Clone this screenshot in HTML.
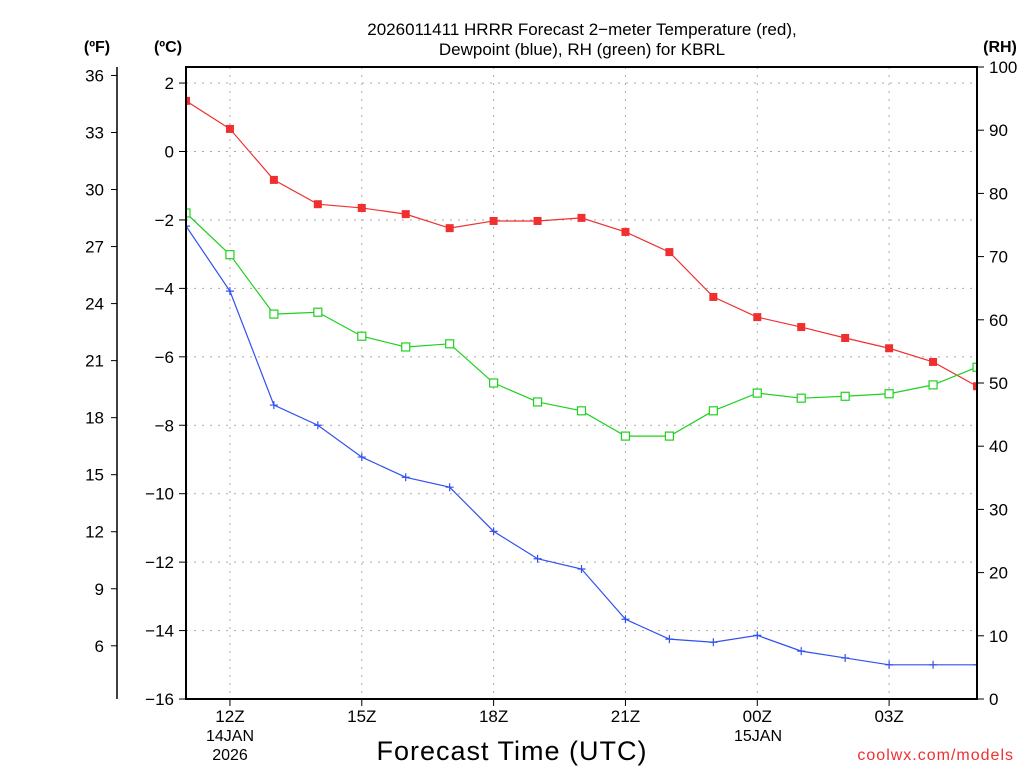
<!DOCTYPE html>
<html><head><meta charset="utf-8"><style>
body{margin:0;background:#fff}
svg text{font-family:"Liberation Sans",sans-serif}
</style></head><body>
<svg id="c" width="1024" height="768" xmlns="http://www.w3.org/2000/svg"><defs><clipPath id="pc"><rect x="186" y="67" width="791" height="632"/></clipPath></defs></svg>
<script>
const hours = [11,12,13,14,15,16,17,18,19,20,21,22,23,24,25,26,27,28,29];
const tempC = [1.48,0.66,-0.83,-1.54,-1.65,-1.83,-2.24,-2.03,-2.03,-1.94,-2.35,-2.94,-4.25,-4.84,-5.13,-5.45,-5.75,-6.15,-6.86];
const dewC = [-2.18,-4.08,-7.41,-8.0,-8.93,-9.52,-9.81,-11.1,-11.9,-12.2,-13.67,-14.25,-14.34,-14.14,-14.6,-14.8,-15.0,-15.0,-15.0];
const rh = [76.9,70.3,60.9,61.2,57.4,55.7,56.2,50.0,47.0,45.6,41.6,41.6,45.6,48.4,47.6,47.9,48.3,49.7,52.5];
const cTicks = [2,0,-2,-4,-6,-8,-10,-12,-14,-16];
const fTicks = [36,33,30,27,24,21,18,15,12,9,6];
const rhTicks = [100,90,80,70,60,50,40,30,20,10,0];
const xTickHours = [12,15,18,21,24,27];
const xTickLabels = ["12Z","15Z","18Z","21Z","00Z","03Z"];

const L=186,R=977,T=67,B=699;
const x=h=>L+(h-11)*(R-L)/18;
const yC=c=>151.5-c*34.22;
const yF=f=>yC((f-32)*5/9);
const yR=r=>B-r*(B-T)/100;
const svg=document.getElementById('c');
const NS='http://www.w3.org/2000/svg';
function mk(tag,a,txt,name,parent){const e=document.createElementNS(NS,tag);for(const k in a)e.setAttribute(k,a[k]);if(txt!=null)e.textContent=txt;


(parent||svg).appendChild(e);return e;}
cTicks.forEach(c=>{if(c>-16)mk('line',{x1:L,x2:R,y1:yC(c),y2:yC(c),stroke:'#aaa','stroke-dasharray':'2,6'},null,'h-grid');});
xTickHours.forEach(h=>mk('line',{x1:x(h),x2:x(h),y1:T,y2:B,stroke:'#aaa','stroke-dasharray':'2,6'},null,'v-grid'));
mk('line',{x1:117,x2:117,y1:67,y2:699,stroke:'#000','stroke-width':1.5},null,'fahrenheit-axis');
cTicks.forEach(c=>{mk('line',{x1:L-7,x2:L,y1:yC(c),y2:yC(c),stroke:'#000'},null,'c-tick');mk('text',{x:174,y:yC(c)+6,'text-anchor':'end','font-size':17},String(c).replace('-','−'),'c-tick-label');});
fTicks.forEach(f=>{mk('line',{x1:111,x2:117,y1:yF(f),y2:yF(f),stroke:'#000'},null,'f-tick');mk('text',{x:104,y:yF(f)+6,'text-anchor':'end','font-size':17},f,'f-tick-label');});
rhTicks.forEach(r=>{mk('line',{x1:R,x2:R+7,y1:yR(r),y2:yR(r),stroke:'#000'},null,'rh-tick');mk('text',{x:989,y:yR(r)+6,'font-size':17},r,'rh-tick-label');});
xTickHours.forEach((h,i)=>{mk('line',{x1:x(h),x2:x(h),y1:B,y2:B+7,stroke:'#000'},null,'x-tick');mk('text',{x:x(h),y:722,'text-anchor':'middle','font-size':17},xTickLabels[i],'x-tick-label');});
mk('text',{x:230,y:741,'text-anchor':'middle','font-size':16},'14JAN','date-label');
mk('text',{x:230,y:760,'text-anchor':'middle','font-size':16},'2026','year-label');
mk('text',{x:758,y:741,'text-anchor':'middle','font-size':16},'15JAN','date-label-2');
mk('text',{x:512,y:760,'text-anchor':'middle','font-size':27,'letter-spacing':1},'Forecast Time (UTC)','x-axis-title');
mk('text',{x:1014,y:760,'text-anchor':'end','font-size':16,fill:'#f03030','letter-spacing':1},'coolwx.com/models','watermark');
mk('text',{x:582,y:35,'text-anchor':'middle','font-size':17},'2026011411 HRRR Forecast 2−meter Temperature (red),','title-line1');
mk('text',{x:582,y:55,'text-anchor':'middle','font-size':17},'Dewpoint (blue), RH (green) for KBRL','title-line2');
mk('text',{x:97,y:52,'text-anchor':'middle','font-size':16,'font-weight':'bold'},'(ºF)','f-axis-title');
mk('text',{x:168,y:52,'text-anchor':'middle','font-size':16,'font-weight':'bold'},'(ºC)','c-axis-title');
mk('text',{x:1000,y:52,'text-anchor':'middle','font-size':16,'font-weight':'bold'},'(RH)','rh-axis-title');
const g=mk('g',{'clip-path':'url(#pc)'},null,'series-group');
function line(vals,yf,col,name){mk('polyline',{points:vals.map((v,i)=>x(hours[i])+','+yf(v)).join(' '),fill:'none',stroke:col,'stroke-width':1.2},null,name,g);}
line(tempC,yC,'#f03030','temperature-line');
line(dewC,yC,'#3050f0','dewpoint-line');
line(rh,yR,'#20d020','rh-line');
tempC.forEach((v,i)=>mk('rect',{x:x(hours[i])-4,y:yC(v)-4,width:8,height:8,fill:'#f03030'},null,'temperature-point',g));
rh.forEach((v,i)=>mk('rect',{x:x(hours[i])-4,y:yR(v)-4,width:8,height:8,fill:'#fff',stroke:'#20d020','stroke-width':1.2},null,'rh-point',g));
dewC.forEach((v,i)=>{const cx=x(hours[i]),cy=yC(v);mk('path',{d:`M${cx-4},${cy}H${cx+4}M${cx},${cy-4}V${cy+4}`,stroke:'#3050f0','stroke-width':1.2},null,'dewpoint-point',g);});
mk('rect',{x:L,y:T,width:R-L,height:B-T,fill:'none',stroke:'#000','stroke-width':2},null,'plot-frame');
</script>
</body></html>
